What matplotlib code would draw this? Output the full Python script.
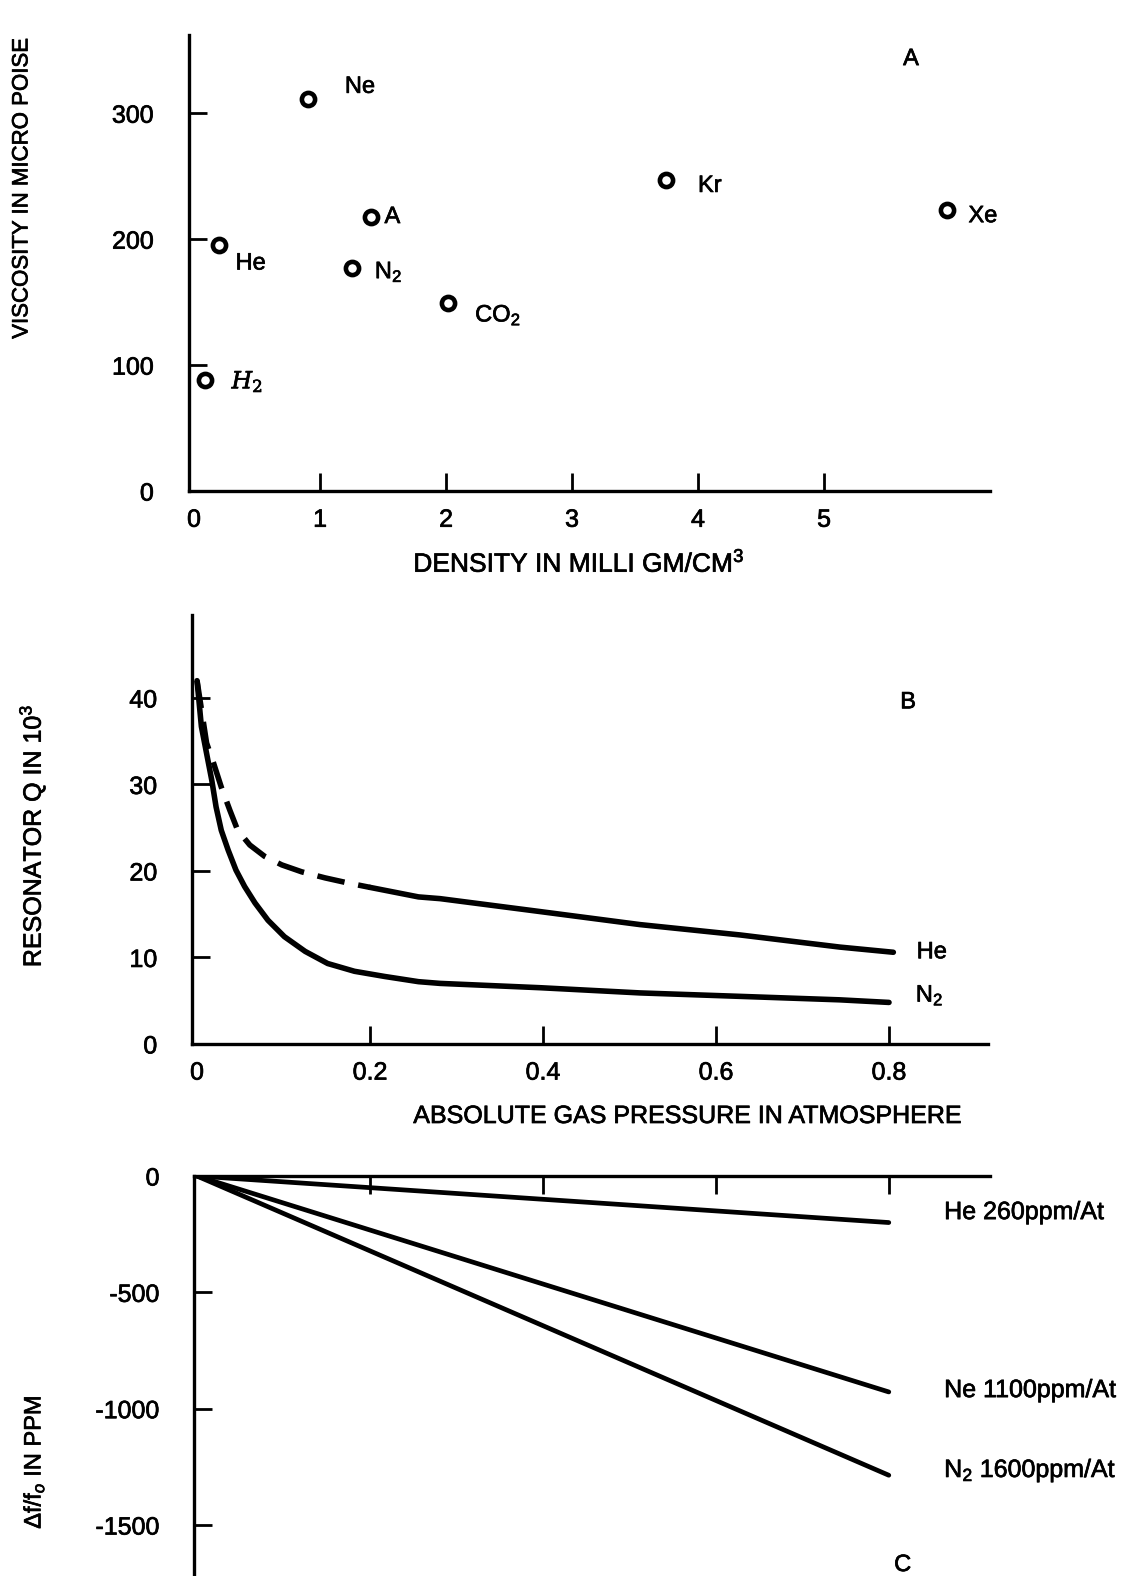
import matplotlib

matplotlib.use('Agg')

import matplotlib.pyplot as plt
from matplotlib import patheffects
from matplotlib.text import Text

plt.rcParams['font.family'] = ['Liberation Sans', 'DejaVu Sans']
plt.rcParams['mathtext.fontset'] = 'custom'
plt.rcParams['mathtext.rm'] = 'Liberation Sans'
plt.rcParams['mathtext.it'] = 'Liberation Sans:italic'
plt.rcParams['mathtext.bf'] = 'Liberation Sans:bold'

# --- panel A: viscosity vs density ---
gases = ['$H_2$', 'He', 'Ne', 'N$_2$', 'A', 'CO$_2$', 'Kr', 'Xe']
density = [0.084, 0.195, 0.904, 1.252, 1.408, 2.017, 3.746, 5.972]
viscosity = [88, 195, 311, 177, 218, 149, 247, 223]
a_xticks = [0, 1, 2, 3, 4, 5]
a_xticklabels = ['0', '1', '2', '3', '4', '5']
a_yticks = [0, 100, 200, 300]
a_yticklabels = ['0', '100', '200', '300']

# --- panel B: resonator Q vs pressure ---
n2_p = [0, 0.005, 0.011, 0.017, 0.022, 0.028, 0.036, 0.045, 0.055, 0.067,
        0.082, 0.101, 0.125, 0.151, 0.182, 0.217, 0.256, 0.281, 0.397,
        0.512, 0.628, 0.743, 0.8]
n2_q = [42, 36.7, 33.6, 30.5, 27.4, 24.7, 22.4, 20.1, 18.2, 16.3,
        14.3, 12.4, 10.7, 9.3, 8.4, 7.8, 7.2, 7.0, 6.5,
        5.9, 5.5, 5.1, 4.8]
he_p = [0, 0.011, 0.019, 0.028, 0.038, 0.047, 0.061, 0.078, 0.098, 0.121,
        0.148, 0.175, 0.2, 0.256, 0.281, 0.397, 0.512, 0.628, 0.743, 0.805]
he_q = [42, 34.8, 32.5, 29.7, 27.0, 24.7, 23.0, 21.7, 20.7, 19.9,
        19.2, 18.6, 18.1, 17.0, 16.8, 15.3, 13.8, 12.6, 11.2, 10.6]
he_dash_end = 0.2   # He curve is dashed below this pressure
b_xticks = [0, 0.2, 0.4, 0.6, 0.8]
b_xticklabels = ['0', '0.2', '0.4', '0.6', '0.8']
b_yticks = [0, 10, 20, 30, 40]
b_yticklabels = ['0', '10', '20', '30', '40']

# --- panel C: frequency shift vs pressure ---
c_pressure = [0, 0.8]
c_shift = {
    'He 260ppm/At': [0, -200],
    'Ne 1100ppm/At': [0, -928],
    'N$_2$ 1600ppm/At': [0, -1286],
}
c_xticks = [0, 0.2, 0.4, 0.6, 0.8]
c_yticks = [0, -500, -1000, -1500]
c_yticklabels = ['0', '-500', '-1000', '-1500']

SPINE_W = 2.4
TICK_FS = 18


def set_ticks(axis, values, labels=None):
    # origin tick only carries a label, the others get a short inward mark
    if labels is None:
        axis.set_ticks(values[1:])
        return
    axis.set_ticks(values[1:], labels=labels[1:])
    axis.set_ticks(values[:1], labels=labels[:1], minor=True)


def style(ax, visible=('left', 'bottom')):
    for name, sp in ax.spines.items():
        sp.set_visible(name in visible)
        sp.set_linewidth(SPINE_W)
    ax.tick_params(which='both', direction='in', labelsize=TICK_FS)
    ax.tick_params(which='major', length=13, width=2.0)
    ax.tick_params(which='minor', length=0)
    ax.tick_params(axis='y', which='both', pad=25)
    ax.tick_params(axis='x', which='both', pad=12)


fig = plt.figure(figsize=(11.37, 15.76), dpi=100)
line_kw = dict(color='black', lw=4, solid_capstyle='round',
               solid_joinstyle='round')

# panel A
axA = fig.add_axes([0.1659, 0.6884, 0.7048, 0.2893])
style(axA)
axA.set_xlim(-0.043, 6.317)
axA.set_ylim(0, 362)
set_ticks(axA.xaxis, a_xticks, a_xticklabels)
set_ticks(axA.yaxis, a_yticks, a_yticklabels)
axA.plot(density, viscosity, 'o', ms=9.5, mfc='white', mec='black', mew=3.3,
         clip_on=False)
offsets = [(19.4, -5.8), (12.2, -17.3), (26.6, 4.7), (16.6, -7.2),
           (9.4, -4.7), (19.4, -13), (23, -8.6), (15.8, -8.6)]
for g, x, y, off in zip(gases, density, viscosity, offsets):
    kw = {'math_fontfamily': 'dejavuserif'} if g == '$H_2$' else {}
    axA.annotate(g, (x, y), xytext=off, textcoords='offset points',
                 fontsize=17, va='baseline', ha='left', **kw)
axA.text(5.69, 343, 'A', fontsize=17, ha='center', va='center')
axA.set_ylabel('VISCOSITY IN MICRO POISE', fontsize=16, va='center')
axA.yaxis.set_label_coords(-0.208, 0.664)
axA.set_xlabel('DENSITY IN MILLI GM/CM$^3$', fontsize=19, va='center')
axA.xaxis.set_label_coords(0.487, -0.158)

# panel B
axB = fig.add_axes([0.1689, 0.3376, 0.7001, 0.2722])
style(axB)
axB.set_xlim(-0.0058, 0.9145)
axB.set_ylim(0, 49.6)
set_ticks(axB.xaxis, b_xticks, b_xticklabels)
set_ticks(axB.yaxis, b_yticks, b_yticklabels)
axB.plot(n2_p, n2_q, **line_kw)
cut = he_p.index(he_dash_end)
axB.plot(he_p[:cut + 1], he_q[:cut + 1], color='black', lw=4,
         dashes=(5, 2.5), dash_joinstyle='round')
axB.plot(he_p[cut:], he_q[cut:], **line_kw)
axB.text(0.822, 39.5, 'B', fontsize=17, ha='center', va='center')
axB.text(0.832, 10.6, 'He', fontsize=17, ha='left', va='center')
axB.text(0.831, 4.9, 'N$_2$', fontsize=17, ha='left', va='baseline')
axB.set_ylabel('RESONATOR Q IN 10$^3$', fontsize=18, va='center')
axB.yaxis.set_label_coords(-0.201, 0.485)
axB.set_xlabel('ABSOLUTE GAS PRESSURE IN ATMOSPHERE', fontsize=18,
               va='center')
axB.xaxis.set_label_coords(0.622, -0.168)

# panel C
axC = fig.add_axes([0.1709, 0.0, 0.6998, 0.2538])
style(axC, visible=('left', 'top'))
axC.set_xlim(-0.003, 0.917)
axC.set_ylim(-1719, 0)
axC.xaxis.set_ticks_position('top')
set_ticks(axC.xaxis, c_xticks)
axC.tick_params(axis='x', labeltop=False, labelbottom=False)
set_ticks(axC.yaxis, c_yticks, c_yticklabels)
label_y = {'He 260ppm/At': -155, 'Ne 1100ppm/At': -920,
           'N$_2$ 1600ppm/At': -1294}
for name, vals in c_shift.items():
    axC.plot(c_pressure, vals, color='black', lw=3.4, solid_capstyle='round')
    va = 'baseline' if '$' in name else 'center'
    axC.text(0.864, label_y[name], name, fontsize=18, ha='left', va=va)
axC.text(0.816, -1672, 'C', fontsize=17, ha='center', va='center')
axC.set_ylabel('Δf/f$_o$ IN PPM', fontsize=17, va='center')
axC.yaxis.set_label_coords(-0.2015, 0.285)

# scanned original has slightly heavier lettering
heavy = [patheffects.withStroke(linewidth=0.5, foreground='black')]
for t in fig.findobj(Text):
    if t.get_text():
        t.set_path_effects(heavy)

fig.savefig('out.png', dpi=100)
